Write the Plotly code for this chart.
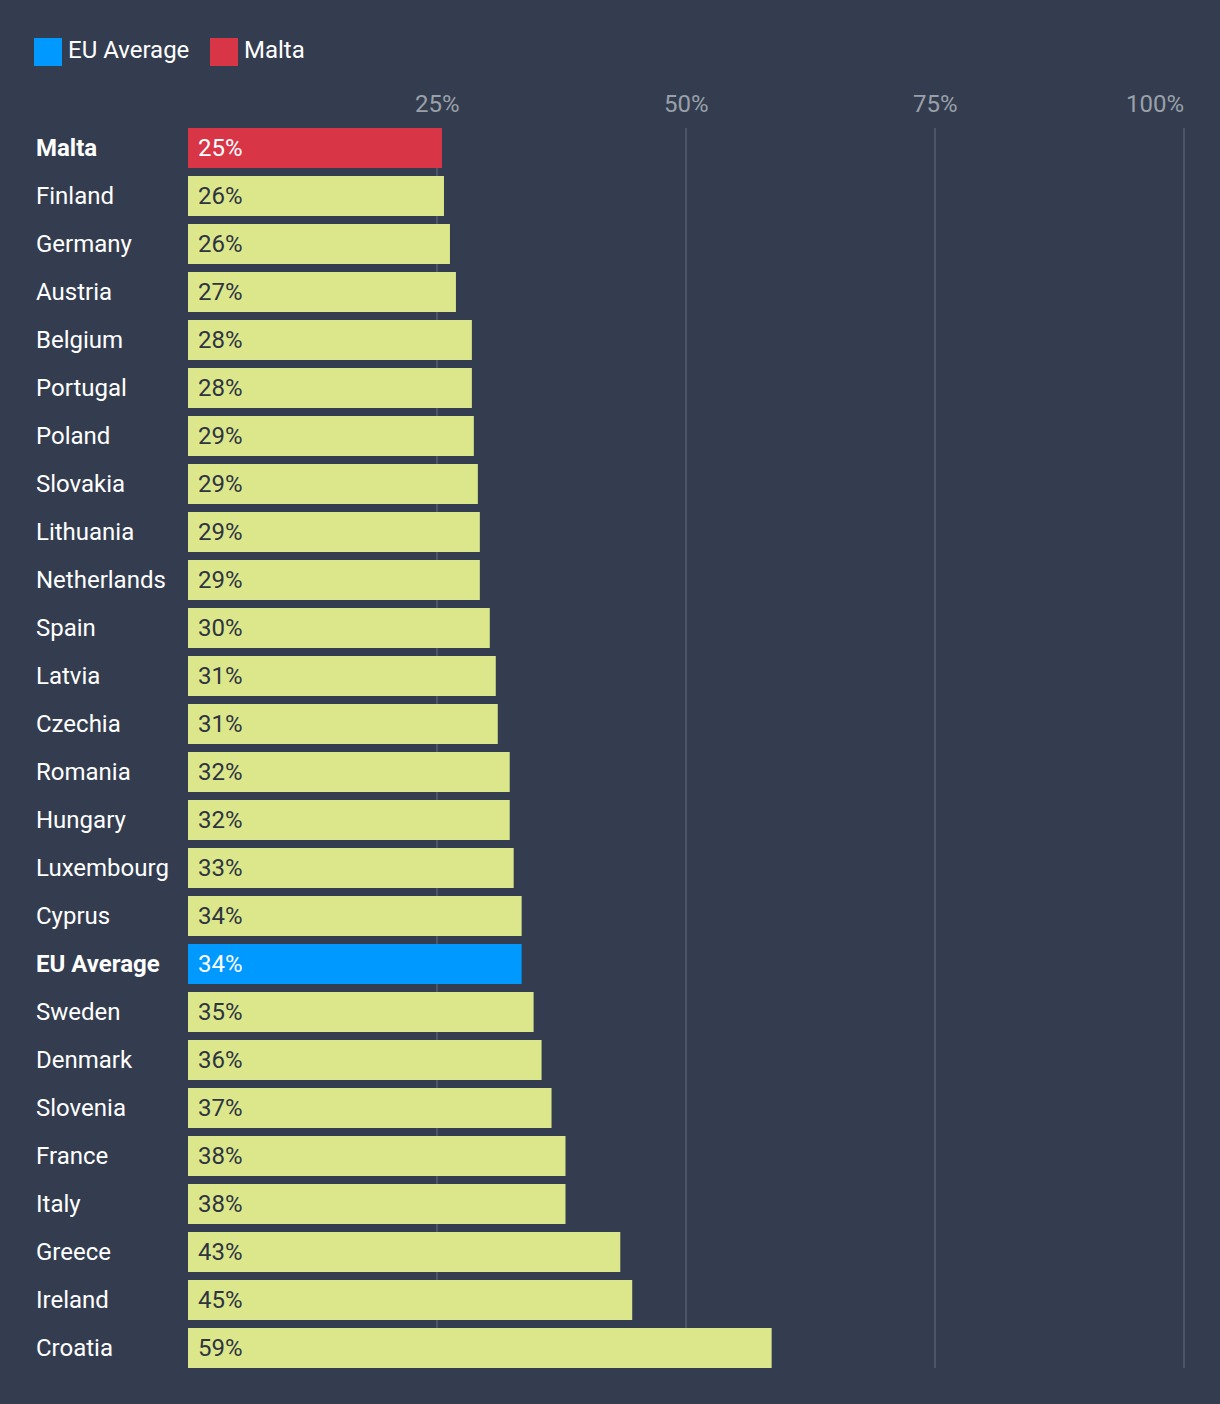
import plotly.graph_objects as go

countries = ["Malta", "Finland", "Germany", "Austria", "Belgium", "Portugal", "Poland",
             "Slovakia", "Lithuania", "Netherlands", "Spain", "Latvia", "Czechia", "Romania",
             "Hungary", "Luxembourg", "Cyprus", "EU Average", "Sweden", "Denmark", "Slovenia",
             "France", "Italy", "Greece", "Ireland", "Croatia"]
values = [25.5, 25.7, 26.3, 26.9, 28.5, 28.5, 28.7, 29.1, 29.3, 29.3, 30.3, 30.9, 31.1,
          32.3, 32.3, 32.7, 33.5, 33.5, 34.7, 35.5, 36.5, 37.9, 37.9, 43.4, 44.6, 58.6]
value_labels = ["25%", "26%", "26%", "27%", "28%", "28%", "29%", "29%", "29%", "29%", "30%",
                "31%", "31%", "32%", "32%", "33%", "34%", "34%", "35%", "36%", "37%", "38%",
                "38%", "43%", "45%", "59%"]
tick_vals = [25, 50, 75, 100]
tick_text = ["25%", "50%", "75%", "100%"]

BG = "#333d4f"
YELLOW = "#dce78c"
RED = "#d83547"
BLUE = "#0099ff"
FONT = "Roboto"
FS = 24

W, H = 1220, 1404
ML, MR, MT, MB = 188, 34, 128, 36
PW = W - ML - MR
PH = H - MT - MB


def px_x(p):
    return (p - ML) / PW


def px_y(p):
    return (H - MB - p) / PH


colors = []
for c in countries:
    if c == "Malta":
        colors.append(RED)
    elif c == "EU Average":
        colors.append(BLUE)
    else:
        colors.append(YELLOW)

fig = go.Figure()
fig.add_trace(go.Bar(
    x=values, y=countries, orientation="h",
    marker=dict(color=colors, line=dict(width=0)),
    hoverinfo="skip", showlegend=False,
))

annotations = []
for c, lab in zip(countries, value_labels):
    special = c in ("Malta", "EU Average")
    annotations.append(dict(
        x=0, y=c, xref="x", yref="y", text=lab, showarrow=False,
        xanchor="left", yanchor="middle", xshift=8,
        font=dict(family=FONT, size=FS, color="#ffffff" if special else "#2e3440"),
    ))
    annotations.append(dict(
        x=px_x(34), y=c, xref="paper", yref="y",
        text=f"<b>{c}</b>" if special else c, showarrow=False,
        xanchor="left", yanchor="middle",
        font=dict(family=FONT, size=FS, color="#ffffff"),
    ))

# axis tick labels (last one kept inside the chart, right-aligned to its gridline)
for i, (tv, tt) in enumerate(zip(tick_vals, tick_text)):
    last = i == len(tick_vals) - 1
    annotations.append(dict(
        x=tv, y=px_y(104), xref="x", yref="paper", text=tt, showarrow=False,
        xanchor="right" if last else "center", yanchor="middle",
        xshift=2 if last else 0,
        font=dict(family=FONT, size=FS, color="#9aa0a9"),
    ))

# legend
shapes = []
for lx, col, name in [(34, BLUE, "EU Average"), (210, RED, "Malta")]:
    shapes.append(dict(type="rect", xref="paper", yref="paper",
                       x0=px_x(lx), x1=px_x(lx + 28), y0=px_y(66), y1=px_y(38),
                       fillcolor=col, line=dict(width=0), layer="above"))
    annotations.append(dict(x=px_x(lx + 32), y=px_y(50), xref="paper", yref="paper",
                            text=name, showarrow=False, xanchor="left", yanchor="middle",
                            font=dict(family=FONT, size=FS, color="#ffffff")))

fig.update_layout(
    width=W, height=H,
    margin=dict(l=ML, r=MR, t=MT, b=MB, pad=0),
    paper_bgcolor=BG, plot_bgcolor=BG,
    bargap=1 - 40 / 48,
    showlegend=False,
    annotations=annotations,
    shapes=shapes,
    xaxis=dict(range=[0, 100.2], side="top", tickvals=tick_vals, showticklabels=False,
               showgrid=True, gridcolor="#4b5567", gridwidth=2, zeroline=False,
               showline=False, ticks="", fixedrange=True),
    yaxis=dict(categoryorder="array", categoryarray=countries,
               range=[25.5 - 1 / 12, -0.5 + 1 / 12], showticklabels=False,
               showgrid=False, zeroline=False, showline=False, ticks="", fixedrange=True),
)

fig.write_html("out.html", config={"displayModeBar": False},
               post_script="document.body.style.margin='0';document.body.style.overflow='hidden';")
